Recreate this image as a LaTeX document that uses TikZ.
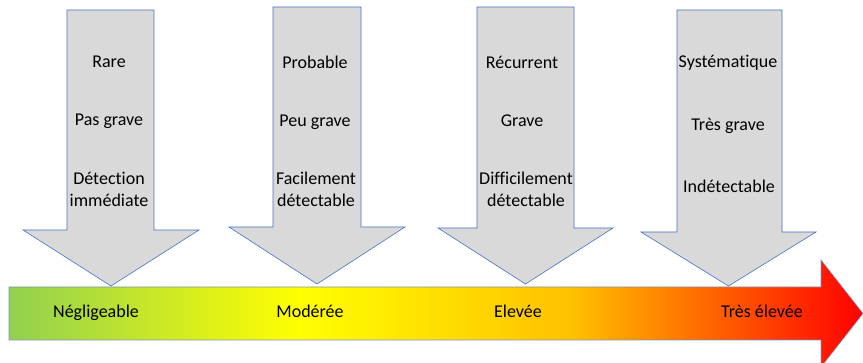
\documentclass[tikz,border=0pt]{standalone}
\usepackage{fontspec}
\setmainfont{Carlito}[Ligatures=NoCommon]
\usetikzlibrary{positioning}

\definecolor{arrowfill}{HTML}{D9D9D9}
\definecolor{arrowline}{HTML}{4472C4}
\definecolor{barline}{HTML}{7F93B8}
\definecolor{riskgreen}{HTML}{92D050}
\definecolor{riskyellow}{HTML}{FFFF00}
\definecolor{riskorange}{HTML}{FFC000}
\definecolor{riskred}{HTML}{FF0000}

\pgfdeclarehorizontalshading{riskscale}{100bp}{color(0bp)=(riskgreen); color(25bp)=(riskgreen);
  color(42bp)=(riskyellow); color(58bp)=(riskorange); color(75bp)=(riskred); color(100bp)=(riskred)}

\begin{document}
\begin{tikzpicture}[x=1pt,y=-1pt,
  downarrow/.style={fill=arrowfill, draw=arrowline, line width=0.6pt, line join=miter},
  scalebar/.style={shading=riskscale, draw=barline, line width=0.6pt},
  lbl/.style={font=\fontsize{18}{22}\selectfont, align=center, inner sep=0pt}]
  \useasboundingbox (0,0) rectangle (863,363);

  % the scale
  \path[scalebar] (9,287) -- (821,287) -- (821,260) -- (863,313.5) -- (821,367)
    -- (821,340) -- (9,340) -- cycle;

  % the four criteria arrows
  \foreach \sl/\sr/\wl/\wr/\yt/\yh/\yp in
    {67/154/23/199/10/230/286, 273/361/229/405/7/227/284,
     477/574/438/613/7/228/284, 677/782/641/816/10/232/286}
    \draw[downarrow] (\sl,\yt) -- (\sr,\yt) -- (\sr,\yh) -- (\wr,\yh)
      -- ({(\wl+\wr)/2},\yp) -- (\wl,\yh) -- (\sl,\yh) -- cycle;

  % frequency
  \node[lbl, anchor=base] (rare) at (109,68) {Rare};
  \node[lbl, anchor=base] (prob) at (315,69) {Probable};
  \node[lbl, anchor=base] (recur) at (522,69) {Récurrent};
  \node[lbl, anchor=base] (syst) at (728,68) {Systématique};
  % gravity
  \node[lbl, anchor=base] (pasgrave) at (109,126) {Pas grave};
  \node[lbl, anchor=base] (peugrave) at (315,127) {Peu grave};
  \node[lbl, anchor=base] (grave) at (522,127) {Grave};
  \node[lbl, anchor=base] (tresgrave) at (728,131) {Très grave};
  % detection
  \node[lbl] (detimm) at (109,189) {Détection\\immédiate};
  \node[lbl] (facdet) at (316,189) {Facilement\\détectable};
  \node[lbl] (difdet) at (526,189) {Difficilement\\détectable};
  \node[lbl, anchor=base] (indet) at (729,193) {Indétectable};

  % levels
  \node[lbl, anchor=base] (negl) at (96,318) {Négligeable};
  \node[lbl, anchor=base] (moder) at (310,318) {Modérée};
  \node[lbl, anchor=base] (elev) at (518,318) {Elevée};
  \node[lbl, anchor=base] (treselev) at (762,318) {Très élevée};
\end{tikzpicture}
\end{document}
